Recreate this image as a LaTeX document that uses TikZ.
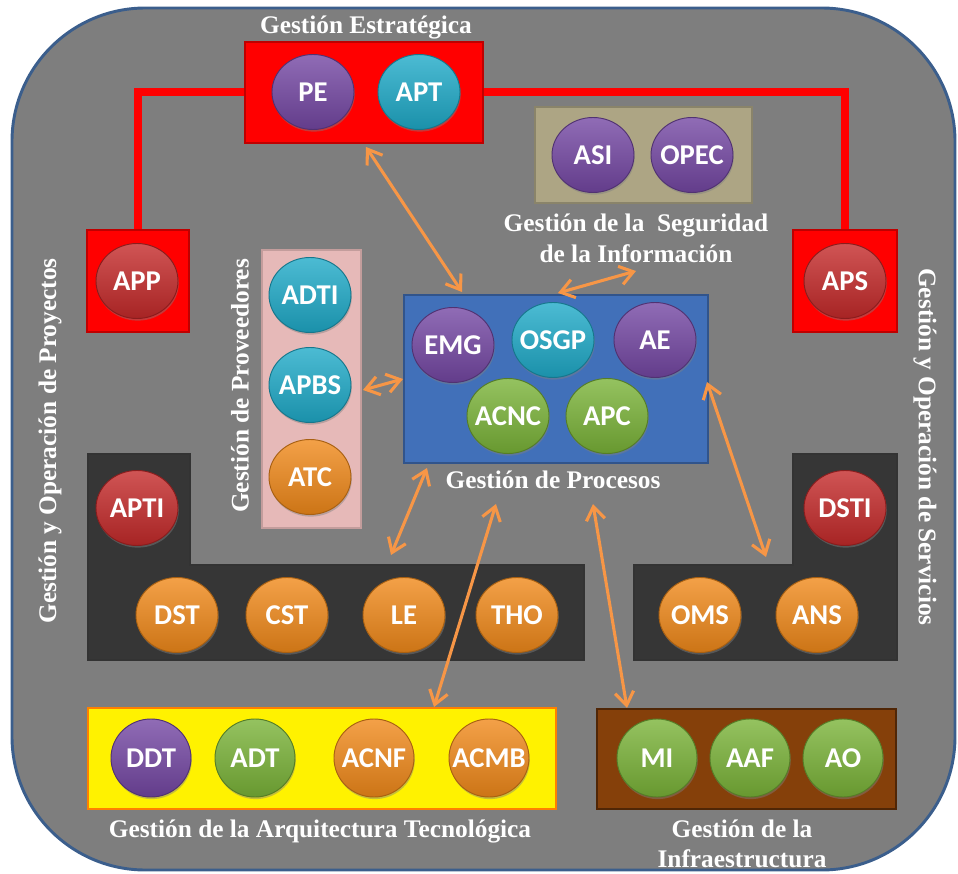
\documentclass[tikz,border=0pt]{standalone}
\usepackage{fontspec}
\setmainfont{Liberation Serif}
\newfontfamily\bubfont{Carlito}
\usetikzlibrary{shapes.geometric,arrows.meta,fit,shadows}
\newdimen\px \px=0.75pt
\definecolor{bggray}{HTML}{7E7E7E}
\definecolor{bgedge}{HTML}{3B5E8C}
\definecolor{cpurple}{HTML}{7447A3}
\definecolor{ccyan}{HTML}{1FAAC8}
\definecolor{cred}{HTML}{C42A2A}
\definecolor{corange}{HTML}{F0891A}
\definecolor{cgreen}{HTML}{7AB338}
\definecolor{arrowc}{HTML}{F79646}
\definecolor{pinkbox}{HTML}{E6B9B8}
\definecolor{khaki}{HTML}{ADA584}
\definecolor{bluebox}{HTML}{4170B9}
\definecolor{darkbox}{HTML}{363636}
\definecolor{brownbox}{HTML}{85400A}
\begin{document}
\begin{tikzpicture}[x=0.75pt,y=-0.75pt,
  bg/.style={fill=bggray, draw=bgedge, line width=2.2pt, rounded corners=100pt, inner sep=0pt},
  grp/.style={inner sep=0pt, line width=1pt},
  redgrp/.style={grp, fill=red, draw=red!75!black},
  bub/.style={ellipse, minimum width=82\px, minimum height=75\px, inner xsep=-14pt, inner ysep=-8pt,
    font=\bubfont\bfseries\fontsize{21.5}{24}\selectfont, text=white,
    draw=#1!70!black, line width=0.7pt,
    top color=#1!80!white, middle color=#1, bottom color=#1!85!black,
    drop shadow={shadow xshift=0.6pt, shadow yshift=-1.6pt, opacity=0.45}},
  bubb/.style={bub=#1, minimum width=80\px, minimum height=78\px},
  lbl/.style={font=\bfseries\fontsize{19}{23}\selectfont, text=white, inner sep=0pt, align=center},
  redline/.style={draw=red, line width=6pt, line join=miter},
  biarrow/.style={draw=arrowc, line width=2.3pt,
    {Straight Barb[length=10pt,width=14pt,line width=2.3pt]}-{Straight Barb[length=10pt,width=14pt,line width=2.3pt]}}
]
\useasboundingbox (0,0) rectangle (958,874);
\node[bg, fit={(12,8)(955,870)}] (bgbox) {};

% group boxes
\node[redgrp, fit={(245,42)(483,143)}] (ge) {};
\node[redgrp, fit={(87,230)(189,332)}] (appbox) {};
\node[redgrp, fit={(793,230)(897,332)}] (apsbox) {};
\node[grp, fill=khaki, draw=khaki!80!black, fit={(535,107)(752,203)}] (secbox) {};
\node[grp, fill=pinkbox, draw=pinkbox!85!black, fit={(262,250)(361,528)}] (provbox) {};
\node[grp, fill=bluebox, draw=bluebox!75!black, line width=1.5pt, fit={(404,295)(708,463)}] (procbox) {};
\node[grp, fill=yellow, draw=orange, line width=1.5pt, fit={(88,708)(556,809)}] (arqbox) {};
\node[grp, fill=brownbox, draw=brownbox!60!black, line width=1.5pt, fit={(597,709)(896,809)}] (infbox) {};
\draw[fill=darkbox, draw=black!80, line width=1pt]
  (88,454) -- (190,454) -- (190,565) -- (584,565) -- (584,660) -- (88,660) -- cycle;
\draw[fill=darkbox, draw=black!80, line width=1pt]
  (634,565) -- (793,565) -- (793,454) -- (897,454) -- (897,660) -- (634,660) -- cycle;

% red connector lines
\draw[redline] (ge.west) -| (appbox.north);
\draw[redline] (ge.east) -| (apsbox.north);

% bubbles
\node[bub=cpurple] (pe) at (313,92) {PE};
\node[bub=ccyan] (apt) at (419,92) {APT};
\node[bub=cpurple] (asi) at (593,155) {ASI};
\node[bub=cpurple] (opec) at (692,155) {OPEC};
\node[bub=cred] (app) at (137,281) {APP};
\node[bub=cred] (aps) at (845,281) {APS};
\node[bub=ccyan] (adti) at (310,295) {ADTI};
\node[bub=ccyan] (apbs) at (310,385) {APBS};
\node[bub=corange] (atc) at (310,477) {ATC};
\node[bub=cpurple] (emg) at (453,345) {EMG};
\node[bub=ccyan] (osgp) at (553,340) {OSGP};
\node[bub=cpurple] (ae) at (655,340) {AE};
\node[bub=cgreen] (acnc) at (508,416) {ACNC};
\node[bub=cgreen] (apc) at (607,416) {APC};
\node[bub=cred] (apti) at (137,508) {APTI};
\node[bub=corange] (dst) at (177,615) {DST};
\node[bub=corange] (cst) at (287,615) {CST};
\node[bub=corange] (le) at (404,615) {LE};
\node[bub=corange] (tho) at (517,615) {THO};
\node[bub=cred] (dsti) at (845,508) {DSTI};
\node[bub=corange] (oms) at (700,615) {OMS};
\node[bub=corange] (ans) at (817,615) {ANS};
\node[bubb=cpurple] (ddt) at (151,758) {DDT};
\node[bubb=cgreen] (adt) at (255,758) {ADT};
\node[bubb=corange] (acnf) at (374,758) {ACNF};
\node[bubb=corange] (acmb) at (489,758) {ACMB};
\node[bubb=cgreen] (mi) at (657,758) {MI};
\node[bubb=cgreen] (aaf) at (750,758) {AAF};
\node[bubb=cgreen] (ao) at (843,758) {AO};

% labels
\node[lbl] (lge) at (366,27) {Gestión Estratégica};
\node[lbl] (lsec) at (636,238) {Gestión de la\ \ Seguridad\\de la Información};
\node[lbl, rotate=90] (lprov) at (240,386) {Gestión de Proveedores};
\node[lbl, rotate=90] (lproy) at (50,441) {Gestión y Operación de Proyectos};
\node[lbl, rotate=-90] (lserv) at (925,447) {Gestión y Operación de Servicios};
\node[lbl] (lproc) at (553,480) {Gestión de Procesos};
\node[lbl] (larq) at (320,831) {Gestión de la Arquitectura Tecnológica};
\node[lbl] (linf) at (742,844) {Gestión de la\\Infraestructura};

% arrows
\coordinate (a1s) at (366,147); \coordinate (a1e) at (462,292);
\coordinate (a2s) at (558,293); \coordinate (a2e) at (636,271);
\coordinate (a3s) at (363,390); \coordinate (a3e) at (403,379);
\coordinate (a4s) at (427,468); \coordinate (a4e) at (391,555);
\coordinate (a5s) at (496,504); \coordinate (a5e) at (434,707);
\coordinate (a6s) at (593,504); \coordinate (a6e) at (627,708);
\coordinate (a7s) at (707,382); \coordinate (a7e) at (766,557);
\foreach \i in {1,...,7} { \draw[biarrow] (a\i s) -- (a\i e); }
\end{tikzpicture}
\end{document}
